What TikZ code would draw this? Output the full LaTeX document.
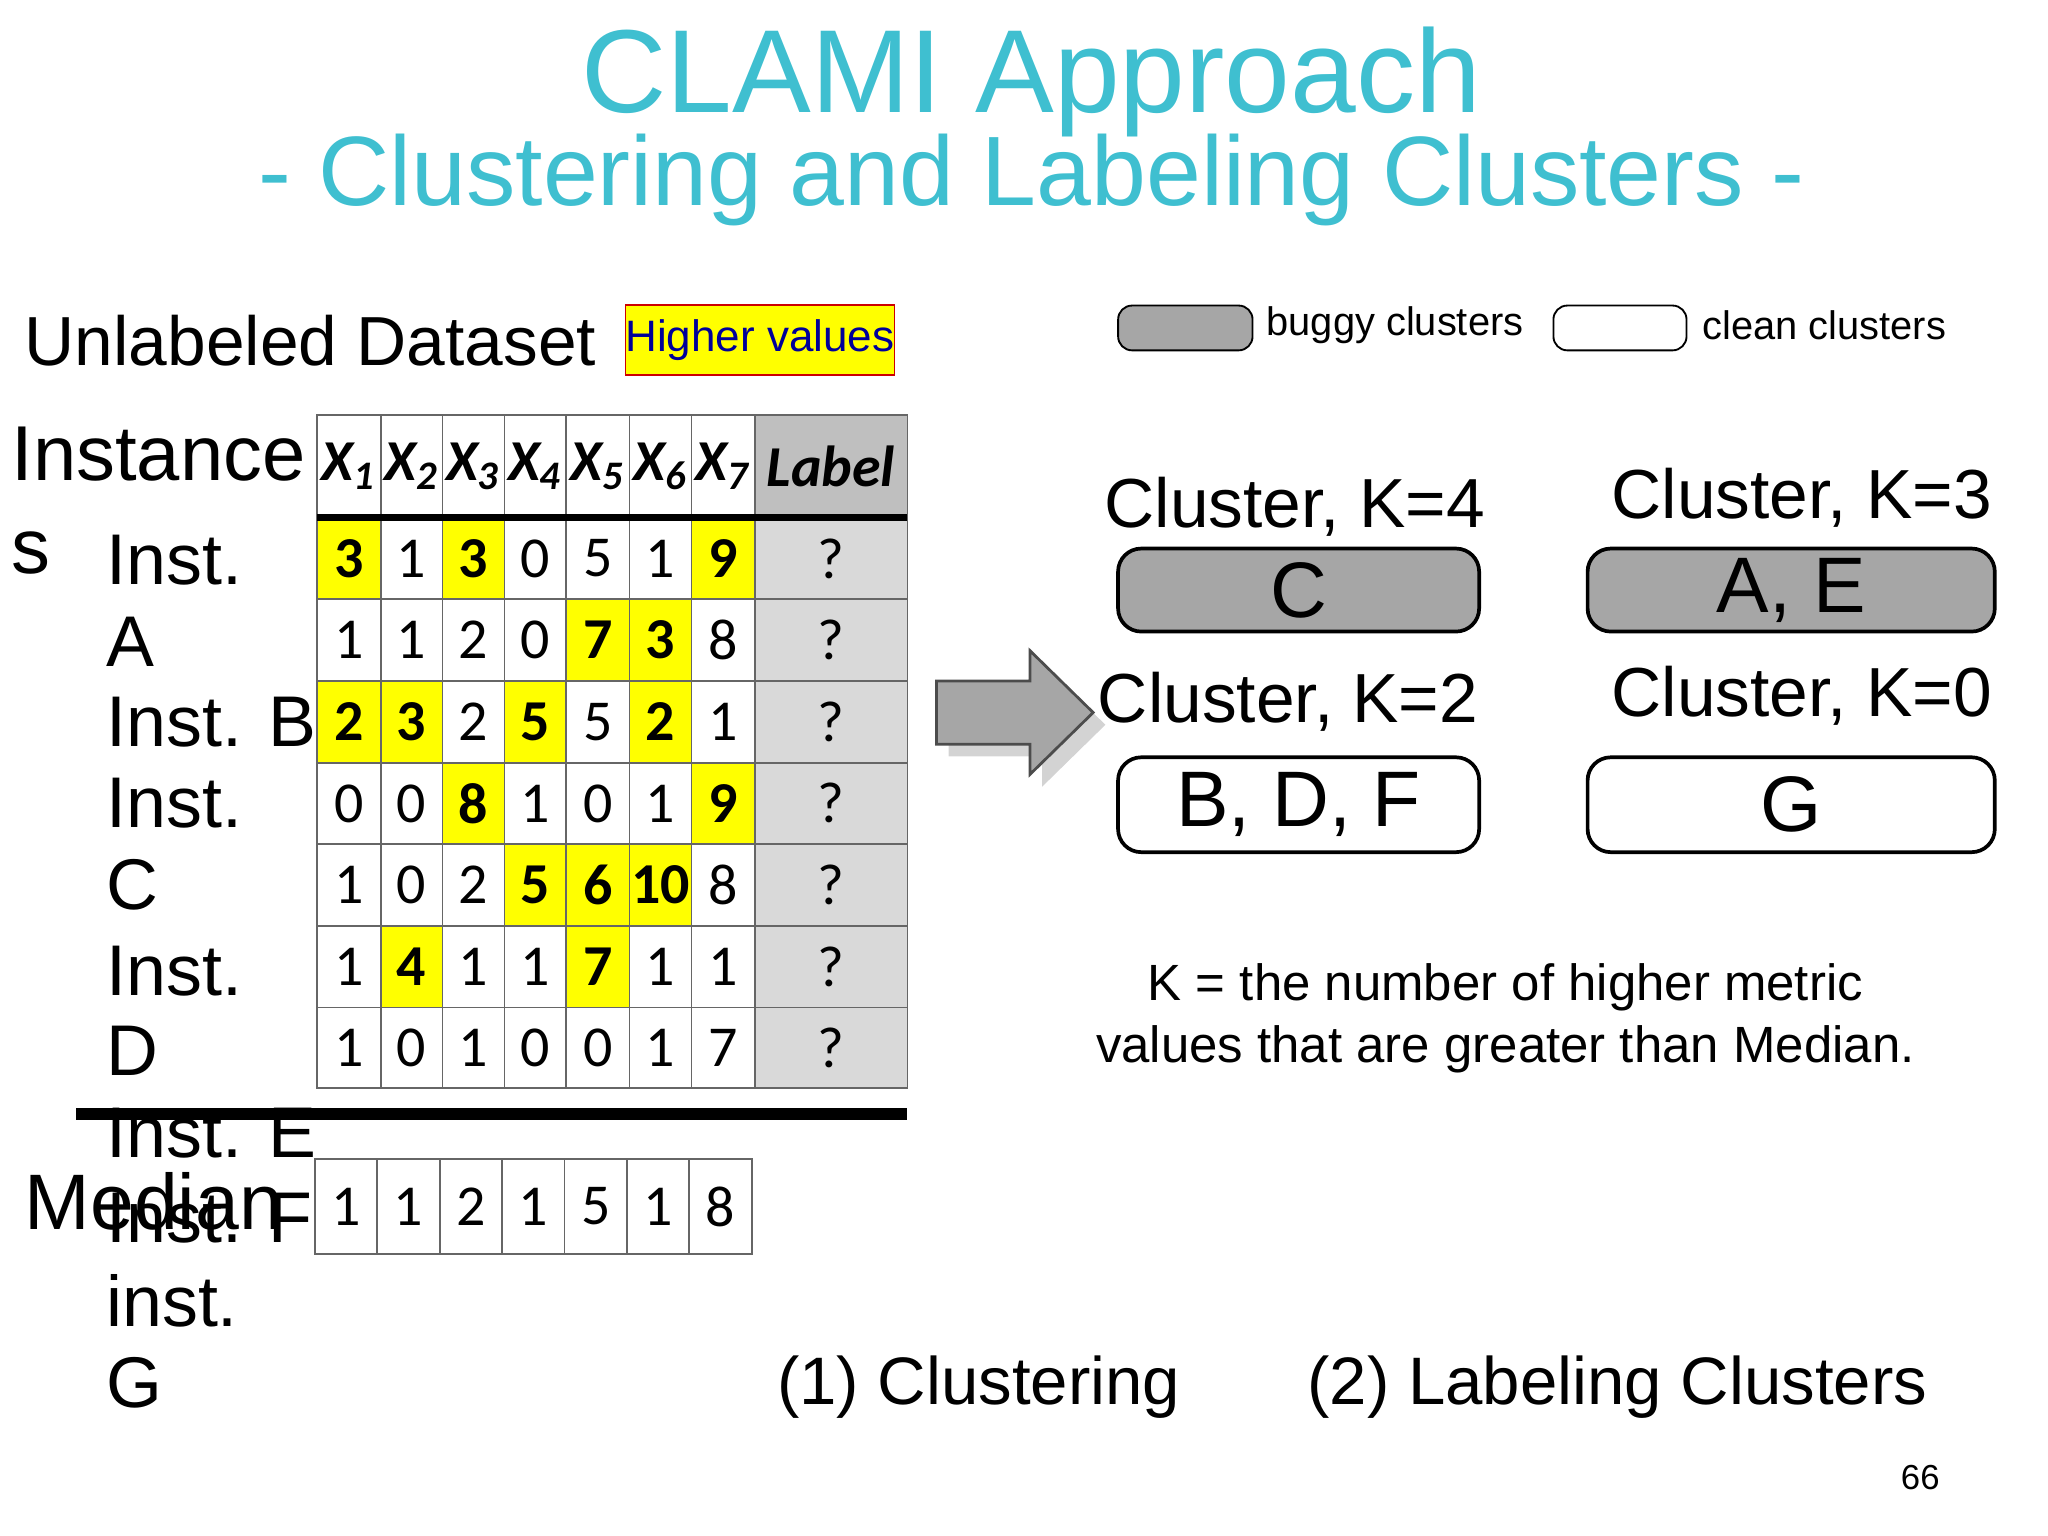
\documentclass[tikz,border=0pt]{standalone}
\usepackage{fontspec}
\setmainfont{Liberation Sans}
\newfontfamily\carl{Carlito}
\usetikzlibrary{shadows}
\definecolor{ttl}{HTML}{3FBFD0}
\definecolor{yel}{HTML}{FFFF00}
\definecolor{lg}{HTML}{D9D9D9}
\definecolor{hg}{HTML}{BFBFBF}
\definecolor{bg}{HTML}{A6A6A6}
\begin{document}
\begin{tikzpicture}[x=0.01cm,y=-0.01cm,
 lbl/.style={anchor=west,inner sep=0,font=\fontsize{15.5}{17}\selectfont},
 cell/.style={draw=black!60,line width=0.4pt,inner sep=0,font=\carl\fontsize{12.5}{14}\selectfont},
 clus/.style={draw=black,rounded corners=5pt,line width=0.8pt,inner sep=0,font=\fontsize{17}{19}\selectfont},
 ct/.style={font=\fontsize{15}{17}\selectfont,inner sep=0}]
\useasboundingbox (0,0) rectangle (1555,1166);
\node[text=ttl,font=\fontsize{25.5}{28}\selectfont] (t1) at (783,62) {CLAMI Approach};
\node[text=ttl,font=\fontsize{21.3}{23}\selectfont] (t2) at (783,137) {- Clustering and Labeling Clusters -};
\node[lbl,font=\fontsize{15}{17}\selectfont] (ud) at (18,259) {Unlabeled Dataset};
\node[draw=red!80!black,fill=yel,minimum width=2cm,minimum height=0.53cm,inner sep=0,text=blue!60!black,font=\fontsize{9.5}{11}\selectfont] (hv) at (577,258) {Higher values};
% table
\def\xs{{241,289,336,383,430,478,525,573,689}}
\def\ys{{315,393,455,517,579,641,703,765,826}}
\fill[hg] (573,315) rectangle (689,393);
\fill[lg] (573,393) rectangle (689,826);
\foreach \c/\s in {1/1,2/2,3/3,4/4,5/5,6/6,7/7}{
  \pgfmathsetmacro\xa{\xs[\c-1]}\pgfmathsetmacro\xb{\xs[\c]}
  \node[cell,draw=none,font=\carl\bfseries\itshape\fontsize{12.5}{14}\selectfont] (h\c) at ({(\xa+\xb)/2},354) {X\textsubscript{\s}};}
\node[cell,draw=none,font=\carl\bfseries\itshape\fontsize{12.5}{14}\selectfont] (hl) at (631,354) {Label};
\foreach \r/\vals in {1/{3/1,1/0,3/1,0/0,5/0,1/0,9/1},2/{1/0,1/0,2/0,0/0,7/1,3/1,8/0},3/{2/1,3/1,2/0,5/1,5/0,2/1,1/0},4/{0/0,0/0,8/1,1/0,0/0,1/0,9/1},5/{1/0,0/0,2/0,5/1,6/1,10/1,8/0},6/{1/0,4/1,1/0,1/0,7/1,1/0,1/0},7/{1/0,0/0,1/0,0/0,0/0,1/0,7/0}}{
  \pgfmathsetmacro\ya{\ys[\r]}\pgfmathsetmacro\yb{\ys[\r+1]}
  \foreach \v/\h [count=\c] in \vals{
    \pgfmathsetmacro\xa{\xs[\c-1]}\pgfmathsetmacro\xb{\xs[\c]}
    \ifnum\h=1
      \node[cell,fill=yel,minimum width={(\xb-\xa)*0.01cm},minimum height={(\yb-\ya)*0.01cm},font=\carl\bfseries\fontsize{12.5}{14}\selectfont] (c\r-\c) at ({(\xa+\xb)/2},{(\ya+\yb)/2}) {\v};
    \else
      \node[cell,minimum width={(\xb-\xa)*0.01cm},minimum height={(\yb-\ya)*0.01cm}] (c\r-\c) at ({(\xa+\xb)/2},{(\ya+\yb)/2}) {\v};
    \fi}
  \node[cell,minimum width=1.16cm,minimum height={(\yb-\ya)*0.01cm}] (l\r) at (631,{(\ya+\yb)/2}) {?};
}
\draw[black!60,line width=0.4pt] (241,315) rectangle (689,393);
\foreach \x in {289,336,383,430,478,525,573}{\draw[black!60,line width=0.4pt] (\x,315) -- (\x,393);}
\draw[line width=1.5pt] (241,393) -- (689,393);
\draw[line width=2.5pt] (58,846) -- (689,846);
\foreach \v [count=\c] in {1,1,2,1,5,1,8}{
  \node[cell,minimum width=0.474cm,minimum height=0.72cm] (m\c) at ({239+47.4*(\c-0.5)},916) {\v};}
% left labels
\node[lbl,font=\fontsize{16.8}{19}\selectfont] (in1) at (8,345) {Instance};
\node[lbl,font=\fontsize{16.8}{19}\selectfont] (in2) at (8,420) {s};
\foreach \t/\y [count=\i] in {Inst./425,A/487,Inst. B/548,Inst./610,C/672,Inst./737,D/798,Inst. E/860,Inst. F/925,inst./988,G/1050}{
  \node[lbl] (la\i) at (80,\y) {\t};}
\node[lbl,font=\fontsize{17}{19}\selectfont] (med) at (18,912) {Median};
% arrow
\fill[bg,drop shadow={opacity=0.35}] (711,517) -- (782,517) -- (782,494) -- (830,541) -- (782,588) -- (782,565) -- (711,565) -- cycle;
\draw[black!70,line width=0.6pt] (711,517) -- (782,517) -- (782,494) -- (830,541) -- (782,588) -- (782,565) -- (711,565) -- cycle;
% legend
\node[draw=black,fill=bg,rounded corners=3pt,minimum width=1.02cm,minimum height=0.34cm,inner sep=0] (lb) at (900,249) {};
\node[anchor=west,inner sep=0,font=\fontsize{8.6}{10}\selectfont] (lbt) at (961,247) {buggy clusters};
\node[draw=black,fill=white,rounded corners=3pt,minimum width=1.01cm,minimum height=0.34cm,inner sep=0] (lc) at (1230,249) {};
\node[anchor=west,inner sep=0,font=\fontsize{8.6}{10}\selectfont] (lct) at (1292,247) {clean clusters};
% clusters
\node[ct] (k4) at (983,385) {Cluster, K=4};
\node[clus,fill=bg,minimum width=2.74cm,minimum height=0.63cm] (cC) at (986,448) {C};
\node[ct] (k3) at (1368,378) {Cluster, K=3};
\node[clus,fill=bg,minimum width=3.09cm,minimum height=0.63cm] (cAE) at (1360,448) {A, E};
\node[ct] (k2) at (978,533) {Cluster, K=2};
\node[clus,fill=white,minimum width=2.74cm,minimum height=0.72cm] (cB) at (986,611) {B, D, F};
\node[ct] (k0) at (1368,528) {Cluster, K=0};
\node[clus,fill=white,minimum width=3.09cm,minimum height=0.72cm] (cG) at (1360,611) {G};
\node[align=center,font=\fontsize{11}{13.4}\selectfont,inner sep=0] (kt) at (1143,773) {K = the number of higher metric\\values that are greater than Median.};
\node[ct,font=\fontsize{14.5}{16}\selectfont] (s1) at (743,1053) {(1) Clustering};
\node[ct,font=\fontsize{14.5}{16}\selectfont] (s2) at (1228,1053) {(2) Labeling Clusters};
\node[inner sep=0,font=\fontsize{7.5}{9}\selectfont] (pg) at (1458,1122) {66};
\end{tikzpicture}
\end{document}
